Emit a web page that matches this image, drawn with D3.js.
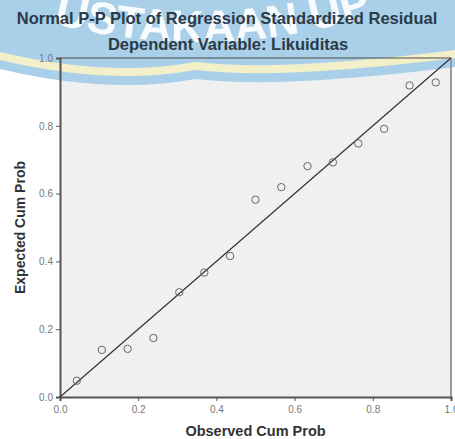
<!DOCTYPE html>
<html>
<head>
<meta charset="utf-8">
<script src="https://cdn.jsdelivr.net/npm/d3@7"></script>
<style>
  body { margin: 0; background: #fff; }
  svg { display: block; font-family: Arial, "Liberation Sans", sans-serif; }
</style>
</head>
<body>
<div id="chart"></div>
<script>
// observed vs expected cumulative probabilities
const observed = [0.043, 0.107, 0.173, 0.239, 0.305, 0.369, 0.435, 0.500, 0.566, 0.633, 0.698, 0.763, 0.829, 0.894, 0.961];
const expected = [0.048, 0.139, 0.142, 0.174, 0.309, 0.367, 0.416, 0.582, 0.619, 0.681, 0.692, 0.748, 0.791, 0.919, 0.928];
const tickValues = [0.0, 0.2, 0.4, 0.6, 0.8, 1.0];

const width = 455, height = 439;
const margin = {top: 58, right: 4, bottom: 42, left: 60};

const svg = d3.select("#chart")
  .append("svg")
  .attr("width", width)
  .attr("height", height);

const x = d3.scaleLinear().domain([0, 1]).range([margin.left, width - margin.right]);
const y = d3.scaleLinear().domain([0, 1]).range([height - margin.bottom, margin.top]);

svg.append("defs").append("filter")
  .attr("id", "soft")
  .append("feGaussianBlur").attr("stdDeviation", 0.6);

// plot background
svg.append("rect")
  .attr("x", x(0)).attr("y", y(1))
  .attr("width", x(1) - x(0)).attr("height", y(0) - y(1))
  .attr("fill", "#f0f0f0");

// watermark banner (blue / yellow garland at the top)
const wm = svg.append("g");
function band(d) {
  return `M0,0 L455,0 L455,${50 + d} Q280,${72 + d} 195,${62 + d} Q110,${78 + d} 0,${52 + d} Z`;
}
wm.append("path").attr("d", band(17)).attr("fill", "#a9d0e8");
wm.append("path").attr("d", band(8)).attr("fill", "#f3efc9");
wm.append("path").attr("d", band(0)).attr("fill", "#a9d0e8");

wm.append("path")
  .attr("id", "arc")
  .attr("d", "M40,20 Q220,70 400,6")
  .attr("fill", "none");
wm.append("text")
  .attr("font-size", 45)
  .attr("font-weight", "bold")
  .attr("fill", "#ffffff")
  .attr("opacity", 0.92)
  .attr("filter", "url(#soft)")
  .append("textPath")
  .attr("href", "#arc")
  .attr("startOffset", "48%")
  .attr("text-anchor", "middle")
  .text("USTAKAAN UP");

// frame: top and right
svg.append("line")
  .attr("x1", x(0)).attr("x2", x(1)).attr("y1", y(1)).attr("y2", y(1))
  .attr("stroke", "#4a4a4a").attr("stroke-width", 1);
svg.append("line")
  .attr("x1", x(1)).attr("x2", x(1)).attr("y1", y(1)).attr("y2", y(0))
  .attr("stroke", "#9a9a9a").attr("stroke-width", 2);

// axes
const xAxis = svg.append("g")
  .attr("transform", `translate(0,${y(0)})`)
  .call(d3.axisBottom(x).tickValues(tickValues).tickFormat(d3.format(".1f")).tickSize(4));
const yAxis = svg.append("g")
  .attr("transform", `translate(${x(0)},0)`)
  .call(d3.axisLeft(y).tickValues(tickValues).tickFormat(d3.format(".1f")).tickSize(4));

[xAxis, yAxis].forEach(g => {
  g.select(".domain").attr("stroke", "#555").attr("stroke-width", 2);
  g.selectAll(".tick line").attr("stroke", "#555");
  g.selectAll(".tick text").attr("fill", "#777").attr("font-size", 10);
});
xAxis.selectAll(".tick text").attr("dy", "0.9em");

// reference diagonal
svg.append("line")
  .attr("x1", x(0)).attr("y1", y(0))
  .attr("x2", x(1)).attr("y2", y(1))
  .attr("stroke", "#333").attr("stroke-width", 1.2);

// points
svg.append("g")
  .selectAll("circle")
  .data(observed)
  .join("circle")
  .attr("cx", d => x(d))
  .attr("cy", (d, i) => y(expected[i]))
  .attr("r", 3.7)
  .attr("fill", "none")
  .attr("stroke", "#666")
  .attr("stroke-width", 1);

// titles
svg.append("text")
  .attr("x", 227).attr("y", 24)
  .attr("text-anchor", "middle")
  .attr("font-size", 16.5).attr("font-weight", "bold")
  .attr("fill", "#2b3a47")
  .text("Normal P-P Plot of Regression Standardized Residual");
svg.append("text")
  .attr("x", 228).attr("y", 50)
  .attr("text-anchor", "middle")
  .attr("font-size", 16.5).attr("font-weight", "bold")
  .attr("fill", "#2b3a47")
  .text("Dependent Variable: Likuiditas");

svg.append("text")
  .attr("x", (x(0) + x(1)) / 2).attr("y", 436)
  .attr("text-anchor", "middle")
  .attr("font-size", 14.5).attr("font-weight", "bold")
  .attr("fill", "#333")
  .text("Observed Cum Prob");
svg.append("text")
  .attr("transform", `translate(25,${(y(0) + y(1)) / 2}) rotate(-90)`)
  .attr("text-anchor", "middle")
  .attr("font-size", 14).attr("font-weight", "bold")
  .attr("fill", "#333")
  .text("Expected Cum Prob");
</script>
</body>
</html>
